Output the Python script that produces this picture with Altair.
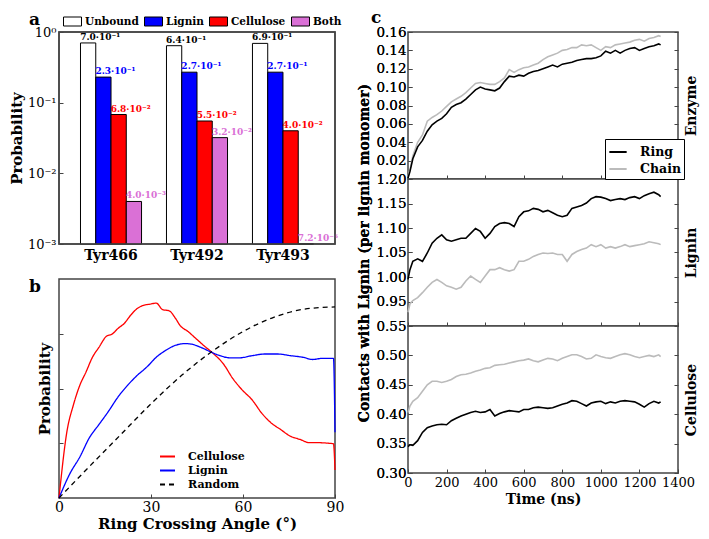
import altair as alt
import pandas as pd

FONT = "DejaVu Serif"

# ---------------- Panel a : binding probabilities ----------------
sites = ["Tyr466", "Tyr492", "Tyr493"]
states = ["Unbound", "Lignin", "Cellulose", "Both"]
prob_tyr466 = [0.70, 0.23, 0.068, 0.0040]
prob_tyr492 = [0.64, 0.27, 0.055, 0.032]
prob_tyr493 = [0.69, 0.27, 0.040, 0.0000072]
text_tyr466 = ["7.0·10⁻¹", "2.3·10⁻¹", "6.8·10⁻²", "4.0·10⁻³"]
text_tyr492 = ["6.4·10⁻¹", "2.7·10⁻¹", "5.5·10⁻²", "3.2·10⁻²"]
text_tyr493 = ["6.9·10⁻¹", "2.7·10⁻¹", "4.0·10⁻²", "7.2·10⁻⁶"]
state_fill = ["#ffffff", "#0000ff", "#ff0000", "#da70d6"]
state_text = ["#000000", "#0000ff", "#ff0000", "#da70d6"]
log_ticks = [0.001, 0.01, 0.1, 1]
log_floor = 0.001
log_top = 1

# ---------------- Panel b : ring crossing angle ----------------
angle_cellulose = [0, 2.6, 4.7, 6.8, 8.8, 10.9, 13.0, 15.6, 17.2, 19.3, 21.3, 23.4, 25.5,
                   27.6, 29.7, 31.7, 33.8, 35.9, 38.0, 39.5, 42.1, 44.7, 47.3, 50.5, 53.6,
                   56.7, 59.8, 63.0, 66.1, 69.2, 72.3, 75.4, 78.6, 81.7, 84.8, 87.9, 89.5, 90.0]
prob_cellulose = [0, 1.22, 1.70, 2.06, 2.30, 2.57, 2.75, 2.96, 2.99, 3.10, 3.19, 3.34, 3.46,
                  3.52, 3.54, 3.56, 3.44, 3.42, 3.28, 3.15, 3.04, 2.91, 2.78, 2.63, 2.45,
                  2.18, 1.97, 1.79, 1.55, 1.37, 1.25, 1.13, 1.07, 1.01, 1.01, 1.00, 0.99, 0.51]
angle_lignin = [0, 3.6, 6.8, 9.9, 13.0, 16.1, 19.3, 22.4, 25.5, 28.6, 31.7, 34.9, 38.0, 41.1,
                43.2, 46.3, 49.4, 52.5, 55.7, 58.8, 63.0, 67.1, 71.3, 75.4, 79.6, 82.7, 85.8,
                89.5, 90.0]
prob_lignin = [0, 0.45, 0.75, 1.10, 1.34, 1.58, 1.85, 2.06, 2.24, 2.39, 2.57, 2.70, 2.79, 2.82,
               2.81, 2.75, 2.67, 2.60, 2.56, 2.56, 2.60, 2.63, 2.63, 2.60, 2.57, 2.53, 2.55,
               2.55, 1.20]
angle_random = [0, 10, 20, 30, 40, 50, 60, 70, 80, 90]
prob_random = [0, 0.58, 1.15, 1.72, 2.24, 2.68, 3.04, 3.30, 3.45, 3.49]
angle_ticks = [0, 30, 60, 90]

# ---------------- Panel c : contacts vs time ----------------
times = [0, 10, 25, 50, 75, 100, 125, 150, 175, 200, 225, 250, 275, 300, 325, 350, 375, 400,
         425, 450, 475, 500, 525, 550, 575, 600, 625, 650, 675, 700, 725, 750, 775, 800, 825,
         850, 875, 900, 925, 950, 975, 1000, 1025, 1050, 1075, 1100, 1125, 1150, 1175, 1200,
         1225, 1250, 1275, 1300, 1310]
enzyme_ring = [0.001, 0.008, 0.022, 0.035, 0.042, 0.052, 0.059, 0.063, 0.066, 0.071, 0.078,
               0.081, 0.083, 0.087, 0.092, 0.097, 0.100, 0.098, 0.097, 0.096, 0.099, 0.106,
               0.112, 0.111, 0.113, 0.112, 0.115, 0.117, 0.118, 0.120, 0.122, 0.124, 0.122,
               0.125, 0.126, 0.127, 0.129, 0.130, 0.131, 0.131, 0.132, 0.134, 0.139, 0.137,
               0.140, 0.137, 0.140, 0.142, 0.143, 0.140, 0.142, 0.144, 0.145, 0.147, 0.146]
enzyme_chain = [0.002, 0.010, 0.025, 0.040, 0.048, 0.063, 0.067, 0.070, 0.074, 0.079, 0.084,
                0.087, 0.090, 0.094, 0.099, 0.104, 0.105, 0.104, 0.103, 0.103, 0.106, 0.110,
                0.119, 0.116, 0.119, 0.121, 0.122, 0.124, 0.126, 0.130, 0.133, 0.135, 0.137,
                0.140, 0.141, 0.143, 0.143, 0.146, 0.145, 0.146, 0.143, 0.140, 0.144, 0.143,
                0.146, 0.147, 0.148, 0.149, 0.151, 0.152, 0.150, 0.153, 0.154, 0.156, 0.155]
lignin_ring = [0.995, 1.015, 1.032, 1.037, 1.032, 1.049, 1.069, 1.079, 1.086, 1.076, 1.073,
               1.076, 1.079, 1.079, 1.089, 1.099, 1.093, 1.079, 1.089, 1.103, 1.109, 1.111,
               1.109, 1.103, 1.123, 1.133, 1.135, 1.140, 1.138, 1.133, 1.136, 1.131, 1.126,
               1.123, 1.126, 1.140, 1.143, 1.146, 1.151, 1.160, 1.164, 1.163, 1.160, 1.156,
               1.158, 1.160, 1.158, 1.162, 1.164, 1.160, 1.166, 1.170, 1.173, 1.168, 1.164]
lignin_chain = [0.928, 0.945, 0.952, 0.958, 0.968, 0.979, 0.989, 0.995, 0.989, 0.982, 0.979,
                0.975, 0.979, 0.992, 1.002, 0.995, 0.989, 1.002, 1.015, 1.015, 1.019, 1.015,
                1.012, 1.015, 1.032, 1.032, 1.036, 1.042, 1.046, 1.049, 1.048, 1.049, 1.046,
                1.046, 1.032, 1.046, 1.052, 1.056, 1.059, 1.066, 1.062, 1.066, 1.059, 1.062,
                1.059, 1.062, 1.066, 1.062, 1.064, 1.066, 1.068, 1.072, 1.070, 1.068, 1.066]
cellulose_ring = [0.345, 0.348, 0.347, 0.355, 0.369, 0.377, 0.380, 0.382, 0.383, 0.382, 0.389,
                  0.393, 0.397, 0.400, 0.403, 0.405, 0.403, 0.404, 0.408, 0.397, 0.401, 0.404,
                  0.406, 0.405, 0.404, 0.408, 0.408, 0.411, 0.412, 0.411, 0.410, 0.411, 0.414,
                  0.417, 0.419, 0.423, 0.422, 0.418, 0.414, 0.419, 0.421, 0.422, 0.418, 0.421,
                  0.419, 0.422, 0.423, 0.422, 0.421, 0.417, 0.412, 0.418, 0.422, 0.419, 0.421]
cellulose_chain = [0.403, 0.414, 0.422, 0.428, 0.439, 0.450, 0.456, 0.456, 0.454, 0.456, 0.459,
                   0.464, 0.467, 0.468, 0.470, 0.473, 0.475, 0.478, 0.479, 0.483, 0.484, 0.485,
                   0.487, 0.489, 0.491, 0.492, 0.494, 0.491, 0.489, 0.492, 0.495, 0.494, 0.491,
                   0.495, 0.498, 0.501, 0.501, 0.498, 0.494, 0.495, 0.501, 0.498, 0.496, 0.495,
                   0.498, 0.501, 0.503, 0.501, 0.498, 0.496, 0.498, 0.500, 0.498, 0.501, 0.498]
time_ticks = [0, 200, 400, 600, 800, 1000, 1200, 1400]
enzyme_ticks = [0.02, 0.04, 0.06, 0.08, 0.10, 0.12, 0.14, 0.16]
lignin_ticks = [0.95, 1.00, 1.05, 1.10, 1.15, 1.20]
cellulose_ticks = [0.30, 0.35, 0.40, 0.45, 0.50, 0.55]

W_L, H_A, H_B = 276, 212, 219
W_R, H_C = 270, 147
FRAME = "#444444"
VIEW = alt.ViewBackground(stroke=FRAME, strokeWidth=1.5, fill="white")


def letter(ch, dx, dy):
    return alt.Chart(pd.DataFrame({"t": [ch]})).mark_text(
        fontSize=17, fontWeight="bold", align="left", baseline="top", font=FONT
    ).encode(text="t:N", x=alt.value(dx), y=alt.value(dy))


# ---------- panel a ----------
rows = []
for site, probs, texts in [("Tyr466", prob_tyr466, text_tyr466),
                           ("Tyr492", prob_tyr492, text_tyr492),
                           ("Tyr493", prob_tyr493, text_tyr493)]:
    for st, p, t, tc in zip(states, probs, texts, state_text):
        rows.append({"site": site, "state": st, "prob": p, "base": log_floor,
                     "label": t, "tcolor": tc})
df_a = pd.DataFrame(rows)

x_a = alt.X("site:N", sort=sites, title=None,
            scale=alt.Scale(paddingInner=0.29, paddingOuter=0.25),
            axis=alt.Axis(labelAngle=0, labelFontSize=14, labelFontWeight="bold",
                          ticks=False, domain=False, labelPadding=4, labelColor="black"))
xo_a = alt.XOffset("state:N", sort=states,
                   scale=alt.Scale(domain=states, paddingInner=0, paddingOuter=0))
log_expr = ("datum.value >= 0.99 ? '10⁰' : datum.value >= 0.099 ? '10⁻¹' : "
            "datum.value >= 0.0099 ? '10⁻²' : '10⁻³'")


def y_a(field):
    return alt.Y(field, title="Probability",
                 scale=alt.Scale(type="log", domain=[0.001, 1]),
                 axis=alt.Axis(values=log_ticks, labelExpr=log_expr, grid=False, domain=False,
                               tickSize=4, offset=-4, labelPadding=3, labelFontSize=13,
                               titleFontSize=15, titleFontWeight="bold", titlePadding=3,
                               labelColor="black", titleColor="black", tickColor=FRAME))


base_a = alt.Chart(df_a).transform_calculate(ly="max(datum.prob, 0.001)")
bars = base_a.mark_bar(stroke="black", strokeWidth=1).encode(
    x=x_a, xOffset=xo_a, y=y_a("ly:Q"), y2="base:Q",
    color=alt.Color("state:N", sort=states,
                    scale=alt.Scale(domain=states, range=state_fill),
                    legend=alt.Legend(title=None, orient="none", legendX=4, legendY=-20,
                                      direction="horizontal", padding=0,
                                      symbolType="M-1,-0.5H1V0.5H-1Z", symbolSize=324,
                                      symbolStrokeColor="black", symbolStrokeWidth=1,
                                      symbolOpacity=1, labelFontSize=10.5,
                                      labelFontWeight="bold", labelColor="black",
                                      columnPadding=3, labelOffset=3)))
bar_text = base_a.mark_text(
    align="left", baseline="alphabetic", dx=-8, dy=-3, fontSize=9, fontWeight="bold"
).encode(x=x_a, xOffset=xo_a, y=y_a("ly:Q"), text="label:N",
         color=alt.Color("tcolor:N", scale=None))
frame_a = alt.Chart(pd.DataFrame({"top": [log_top], "bottom": [log_floor]})).mark_rect(
    fillOpacity=0, stroke=FRAME, strokeWidth=1.5, strokeOpacity=1
).encode(x=alt.value(0), x2=alt.value(W_L), y=y_a("top:Q"), y2="bottom:Q")
panel_a = alt.layer(bars, bar_text, frame_a, letter("a", -30, -20)).properties(
    width=W_L, height=H_A, view=VIEW)

# ---------- panel b ----------
df_b = pd.DataFrame(
    {"angle": angle_cellulose + angle_lignin + angle_random,
     "prob": prob_cellulose + prob_lignin + prob_random,
     "series": ["Cellulose"] * len(angle_cellulose) + ["Lignin"] * len(angle_lignin)
     + ["Random"] * len(angle_random)})
series_b = ["Cellulose", "Lignin", "Random"]
leg_b = dict(title=None, orient="none", legendX=100, legendY=H_B - 50, symbolType="stroke",
             symbolSize=225, symbolStrokeWidth=2, labelFontSize=11, labelFontWeight="bold",
             labelColor="black", rowPadding=0, labelOffset=12, padding=0)
lines_b = alt.Chart(df_b).mark_line(strokeWidth=1.3, interpolate="monotone").encode(
    x=alt.X("angle:Q", title="Ring Crossing Angle (°)",
            scale=alt.Scale(domain=[0, 90], nice=False),
            axis=alt.Axis(values=angle_ticks, grid=False, domain=False, tickSize=4, offset=-4,
                          labelPadding=2, labelFlush=False, labelFontSize=14,
                          titleFontSize=15, titleFontWeight="bold", titlePadding=2,
                          labelColor="black", titleColor="black", tickColor=FRAME)),
    y=alt.Y("prob:Q", title="Probability", scale=alt.Scale(domain=[0, 4], nice=False),
            axis=alt.Axis(values=[1, 2, 3], labels=False, grid=False, domain=False,
                          tickSize=4, offset=-4, titleFontSize=15, titleFontWeight="bold",
                          titlePadding=6, titleColor="black", tickColor=FRAME)),
    color=alt.Color("series:N", sort=series_b,
                    scale=alt.Scale(domain=series_b, range=["#ff0000", "#0000ff", "#000000"]),
                    legend=alt.Legend(**leg_b)),
    strokeDash=alt.StrokeDash("series:N", sort=series_b,
                              scale=alt.Scale(domain=series_b, range=[[1, 0], [1, 0], [5, 4]]),
                              legend=alt.Legend(**leg_b)),
)
panel_b = alt.layer(lines_b, letter("b", -30, 0)).properties(width=W_L, height=H_B, view=VIEW)


# ---------- panel c ----------
def time_panel(ring, chain, ydom, yvals, name, bottom=False, legend=False, ytitle=None,
               ch=None):
    df_ring = pd.DataFrame({"time": times, "value": ring, "series": ["Ring"] * len(times)})
    df_chain = pd.DataFrame({"time": times, "value": chain, "series": ["Chain"] * len(times)})
    x = alt.X("time:Q", title="Time (ns)" if bottom else None,
              scale=alt.Scale(domain=[0, 1400], nice=False),
              axis=alt.Axis(values=time_ticks, labels=bottom, format="d", grid=False,
                            domain=False, tickSize=4, offset=-4, labelPadding=3,
                            labelFlush=False, labelOverlap=False, labelFontSize=13,
                            titleFontSize=14, titleFontWeight="bold", titlePadding=3,
                            labelColor="black", titleColor="black", tickColor=FRAME))
    yscale = alt.Scale(domain=ydom, nice=False, zero=False)
    y = alt.Y("value:Q", title=ytitle, scale=yscale,
              axis=alt.Axis(values=yvals, format=".2f", grid=False, domain=False, tickSize=4,
                            offset=-4, labelPadding=2, labelFontSize=13.5, labelOverlap=False,
                            titleFontSize=14, titleFontWeight="bold", titlePadding=4,
                            titleLimit=600, labelColor="black", titleColor="black",
                            tickColor=FRAME, orient="left"))
    y_right = alt.Y("value:Q", title=name, scale=yscale,
                    axis=alt.Axis(values=yvals, labels=False, grid=False, domain=False,
                                  tickSize=4, offset=-4, titleAngle=270, titleBaseline="top",
                                  titleFontSize=14, titleFontWeight="bold", titlePadding=6,
                                  titleColor="black", tickColor=FRAME, orient="right"))
    if legend:
        col = alt.Color("series:N", sort=["Ring", "Chain"],
                        scale=alt.Scale(domain=["Ring", "Chain"], range=["#000000", "#bbbbbb"]),
                        legend=alt.Legend(title=None, orient="none", legendX=W_R - 73,
                                          legendY=H_C - 40, symbolType="stroke",
                                          symbolSize=300, symbolStrokeWidth=2,
                                          labelFontSize=12.5, labelFontWeight="bold",
                                          labelColor="black", strokeColor="black",
                                          fillColor="white", padding=3, labelOffset=12,
                                          rowPadding=-2, cornerRadius=0))
        c_chain, c_ring = col, col
    else:
        c_chain, c_ring = alt.value("#bbbbbb"), alt.value("#000000")
    l_chain = alt.Chart(df_chain).mark_line(strokeWidth=1.6).encode(x=x, y=y, color=c_chain)
    l_ring = alt.Chart(df_ring).mark_line(strokeWidth=1.6).encode(x=x, y=y, color=c_ring)
    l_axis = alt.Chart(df_ring).mark_line(opacity=0).encode(x=x, y=y_right)
    layers = [l_chain, l_ring, l_axis]
    if ch:
        layers.append(letter(ch, -37, -22))
    return alt.layer(*layers).resolve_axis(y="independent").properties(
        width=W_R, height=H_C, view=VIEW)


c1 = time_panel(enzyme_ring, enzyme_chain, [0, 0.16], enzyme_ticks, "Enzyme", legend=True,
                ch="c")
c2 = time_panel(lignin_ring, lignin_chain, [0.90, 1.20], lignin_ticks, "Lignin",
                ytitle="Contacts with Lignin (per lignin monomer)")
c3 = time_panel(cellulose_ring, cellulose_chain, [0.30, 0.55], cellulose_ticks, "Cellulose",
                bottom=True)

left = alt.vconcat(panel_a, panel_b, spacing=14).resolve_scale(
    color="independent", strokeDash="independent")
right = alt.vconcat(c1, c2, c3, spacing=0, bounds="flush")

chart = alt.hconcat(left, right, spacing=12).resolve_scale(
    color="independent", strokeDash="independent"
).properties(padding=0).configure(font=FONT).configure_view(
    stroke=FRAME, strokeWidth=1.5)

chart.save("out.html", embed_options={"renderer": "svg", "actions": False})
